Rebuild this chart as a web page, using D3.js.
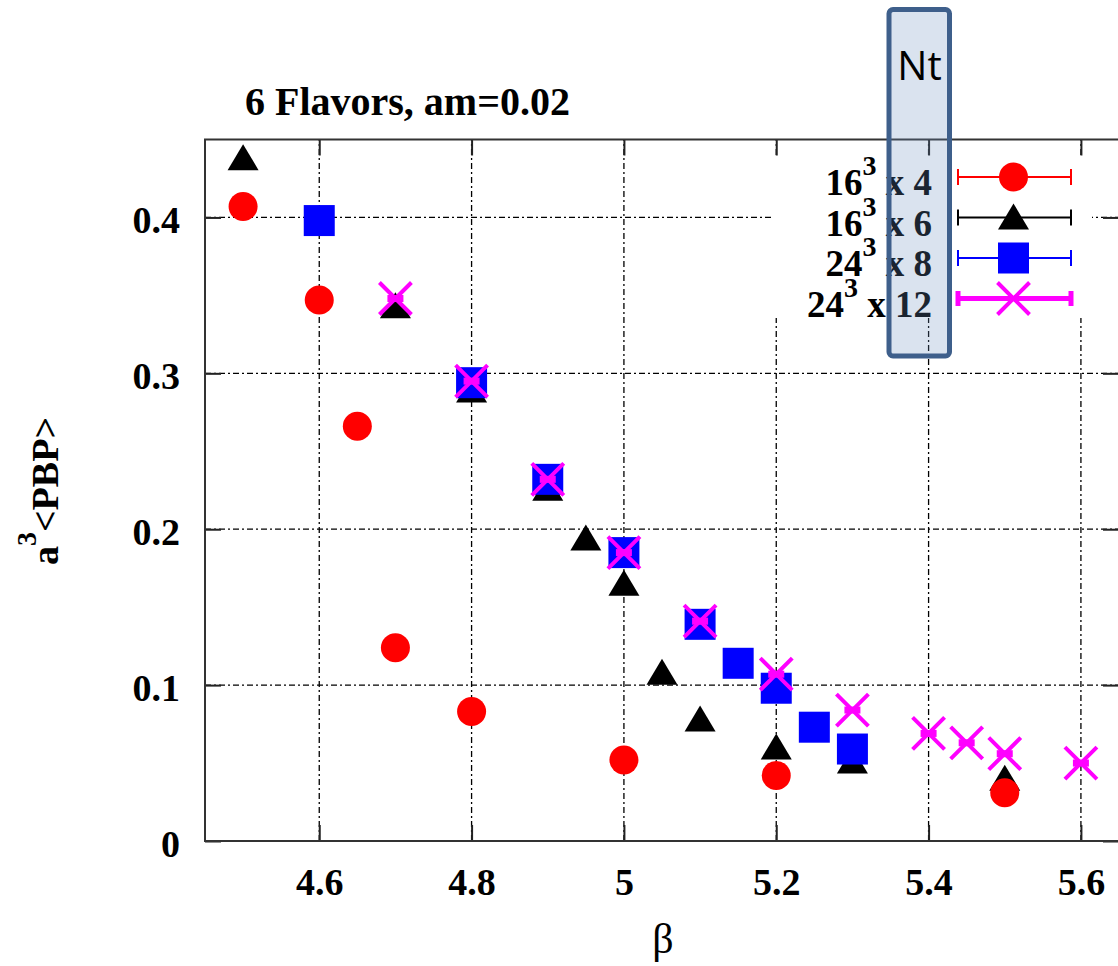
<!DOCTYPE html>
<html>
<head>
<meta charset="utf-8">
<script src="https://cdn.jsdelivr.net/npm/d3@7"></script>
<style>
    body { margin: 0; background: #fff; }
    svg { display: block; }
    .serif { font-family: "Liberation Serif", "Times New Roman", serif; }
</style>
</head>
<body>
<div class="chart"></div>
<script>
// 6 flavors, am=0.02 -- chiral condensate vs beta
var beta4 = [4.5, 4.6, 4.65, 4.7, 4.8, 5.0, 5.2, 5.5];
var pbp4 = [0.407, 0.347, 0.266, 0.124, 0.083, 0.052, 0.042, 0.031];

var beta6 = [4.5, 4.7, 4.8, 4.9, 4.95, 5.0, 5.05, 5.1, 5.2, 5.3, 5.5];
var pbp6 = [0.438, 0.343, 0.289, 0.226, 0.194, 0.165, 0.108, 0.078, 0.060, 0.051, 0.040];

var beta8 = [4.6, 4.8, 4.9, 5.0, 5.1, 5.15, 5.2, 5.25, 5.3];
var pbp8 = [0.398, 0.294, 0.232, 0.185, 0.139, 0.114, 0.098, 0.073, 0.059];

var beta12 = [4.7, 4.8, 4.9, 5.0, 5.1, 5.2, 5.3, 5.4, 5.45, 5.5, 5.6];
var pbp12 = [0.348, 0.295, 0.232, 0.185, 0.141, 0.107, 0.084, 0.069, 0.063, 0.056, 0.050];

var xTicks = [4.6, 4.8, 5.0, 5.2, 5.4, 5.6];
var xTickLabels = ["4.6", "4.8", "5", "5.2", "5.4", "5.6"];
var yTicks = [0, 0.1, 0.2, 0.3, 0.4];
var yTickLabels = ["0", "0.1", "0.2", "0.3", "0.4"];

var legendBase = ["16", "16", "24", "24"];
var legendNt = ["4", "6", "8", "12"];

var width = 1118, height = 966;
var margin = { left: 205, top: 140, right: -1, bottom: 125 };

var svg = d3.select(".chart").append("svg")
    .attr("width", width)
    .attr("height", height);

var x = d3.scaleLinear().domain([4.45, 5.65]).range([margin.left, width - margin.right]);
var y = d3.scaleLinear().domain([0, 0.45]).range([height - margin.bottom, margin.top - 0.5]);

var series = [
    { name: "6", beta: beta6, pbp: pbp6, color: "#000000", shape: "triangle", lw: 1.5 },
    { name: "4", beta: beta4, pbp: pbp4, color: "#ff0000", shape: "circle", lw: 1.5 },
    { name: "8", beta: beta8, pbp: pbp8, color: "#0000ff", shape: "square", lw: 1.5 },
    { name: "12", beta: beta12, pbp: pbp12, color: "#ff00ff", shape: "cross", lw: 5 }
];

// grid
var grid = svg.append("g")
    .attr("stroke", "#000")
    .attr("stroke-width", 1.3)
    .attr("stroke-dasharray", "6,3,2,3");
grid.selectAll(".gx")
    .data(xTicks)
    .enter().append("line")
    .attr("x1", function(d) { return x(d); })
    .attr("x2", function(d) { return x(d); })
    .attr("y1", y(0))
    .attr("y2", y(0.45));
grid.selectAll(".gy")
    .data(yTicks.slice(1))
    .enter().append("line")
    .attr("y1", function(d) { return y(d); })
    .attr("y2", function(d) { return y(d); })
    .attr("x1", x(4.45))
    .attr("x2", x(5.65));

// axes, ticks pointing inward on all four sides
function styleAxis(g) {
    g.select(".domain").remove();
    g.selectAll(".tick line").attr("stroke", "#222").attr("stroke-width", 2);
    g.selectAll("text")
        .attr("class", "serif")
        .style("font-size", "38px")
        .style("font-weight", "bold")
        .attr("fill", "#000");
}

svg.append("g")
    .attr("transform", "translate(0," + y(0) + ")")
    .call(d3.axisBottom(x).tickValues(xTicks).tickSize(-16).tickPadding(27)
        .tickFormat(function(d, i) { return xTickLabels[i]; }))
    .call(styleAxis);

svg.append("g")
    .attr("transform", "translate(" + x(4.45) + ",0)")
    .call(d3.axisLeft(y).tickValues(yTicks).tickSize(-16).tickPadding(25)
        .tickFormat(function(d, i) { return yTickLabels[i]; }))
    .call(styleAxis)
    .selectAll("text").attr("dy", "0.4em");

svg.append("g")
    .attr("transform", "translate(0," + y(0.45) + ")")
    .call(d3.axisTop(x).tickValues(xTicks).tickSize(-16).tickFormat(""))
    .call(styleAxis);

svg.append("g")
    .attr("transform", "translate(" + x(5.65) + ",0)")
    .call(d3.axisRight(y).tickValues(yTicks).tickSize(-16).tickFormat(""))
    .call(styleAxis);

svg.append("rect")
    .attr("x", x(4.45))
    .attr("y", y(0.45))
    .attr("width", x(5.65) - x(4.45))
    .attr("height", y(0) - y(0.45))
    .attr("fill", "none")
    .attr("stroke", "#333")
    .attr("stroke-width", 2);

// markers
function drawMarker(g, s) {
    if (s.shape == "circle") {
        g.append("circle").attr("r", 14.5).attr("fill", s.color);
    } else if (s.shape == "triangle") {
        g.append("path").attr("d", "M0,-14L15.5,12L-15.5,12Z").attr("fill", s.color);
    } else if (s.shape == "square") {
        g.append("rect").attr("x", -15.5).attr("y", -15.5)
            .attr("width", 31).attr("height", 31).attr("fill", s.color);
    } else {
        g.append("path").attr("d", "M-16,-16L16,16M-16,16L16,-16")
            .attr("stroke", s.color).attr("stroke-width", 4).attr("fill", "none");
    }
}

series.forEach(function(s) {
    var pts = svg.append("g").selectAll("g")
        .data(s.beta.map(function(b, i) { return { b: b, v: s.pbp[i] }; }))
        .enter().append("g")
        .attr("transform", function(d) { return "translate(" + x(d.b) + "," + y(d.v) + ")"; });
    pts.each(function() { drawMarker(d3.select(this), s); });
    if (s.shape == "cross") {
        // tiny error bar caps squashed together
        pts.append("rect").attr("x", -8).attr("y", -3.5).attr("width", 16).attr("height", 7)
            .attr("fill", s.color);
    }
});

// legend (opaque key)
var legendX = 932, legendY = 177, legendStep = 40.5;
svg.append("rect")
    .attr("x", 771).attr("y", 158)
    .attr("width", 321).attr("height", 160)
    .attr("fill", "#fff");

var legendOrder = [series[1], series[0], series[2], series[3]];
legendOrder.forEach(function(s, i) {
    var ly = legendY + i * legendStep;
    var t = svg.append("text")
        .attr("class", "serif")
        .attr("x", legendX)
        .attr("y", ly + 18)
        .attr("text-anchor", "end")
        .style("font-size", "37px")
        .style("font-weight", "bold");
    t.append("tspan").text(legendBase[i]);
    t.append("tspan").attr("dy", -20).style("font-size", "28px").text("3");
    t.append("tspan").attr("dy", 20).text(" x " + legendNt[i]);

    var capH = s.shape == "cross" ? 7.5 : 8;
    var lg = svg.append("g").attr("stroke", s.color).attr("fill", "none");
    lg.append("line").attr("x1", 958).attr("x2", 1071).attr("y1", ly).attr("y2", ly)
        .attr("stroke-width", s.lw == 5 ? 5 : 2);
    [958, 1071].forEach(function(cx) {
        lg.append("line").attr("x1", cx).attr("x2", cx)
            .attr("y1", ly - capH).attr("y2", ly + capH)
            .attr("stroke-width", s.lw == 5 ? 5 : 2);
    });
    drawMarker(svg.append("g").attr("transform", "translate(1013.5," + ly + ")"), s);
});

// title and axis labels
svg.append("text")
    .attr("class", "serif")
    .attr("x", 245).attr("y", 115)
    .style("font-size", "40px")
    .style("font-weight", "bold")
    .text("6 Flavors, am=0.02");

var yl = svg.append("text")
    .attr("class", "serif")
    .attr("transform", "translate(58,491) rotate(-90)")
    .attr("text-anchor", "middle")
    .style("font-size", "38px")
    .style("font-weight", "bold");
yl.append("tspan").text("a");
yl.append("tspan").attr("dy", -22).style("font-size", "28px").text("3");
yl.append("tspan").attr("dy", 22).text("<PBP>");

svg.append("text")
    .attr("class", "serif")
    .attr("x", 663).attr("y", 953)
    .attr("text-anchor", "middle")
    .style("font-size", "42px")
    .text("β");

// highlighted Nt column
svg.append("rect")
    .attr("x", 889).attr("y", 9.5)
    .attr("width", 60.5).attr("height", 346.5)
    .attr("rx", 4)
    .attr("fill", "#6c90c0")
    .attr("fill-opacity", 0.25)
    .attr("stroke", "#3e5f8b")
    .attr("stroke-width", 5);

svg.append("text")
    .attr("x", 919.5).attr("y", 80)
    .attr("text-anchor", "middle")
    .style("font-family", "'Open Sans', 'Noto Sans', sans-serif")
    .style("font-size", "40px")
    .attr("fill", "#000")
    .text("Nt");
</script>
</body>
</html>
